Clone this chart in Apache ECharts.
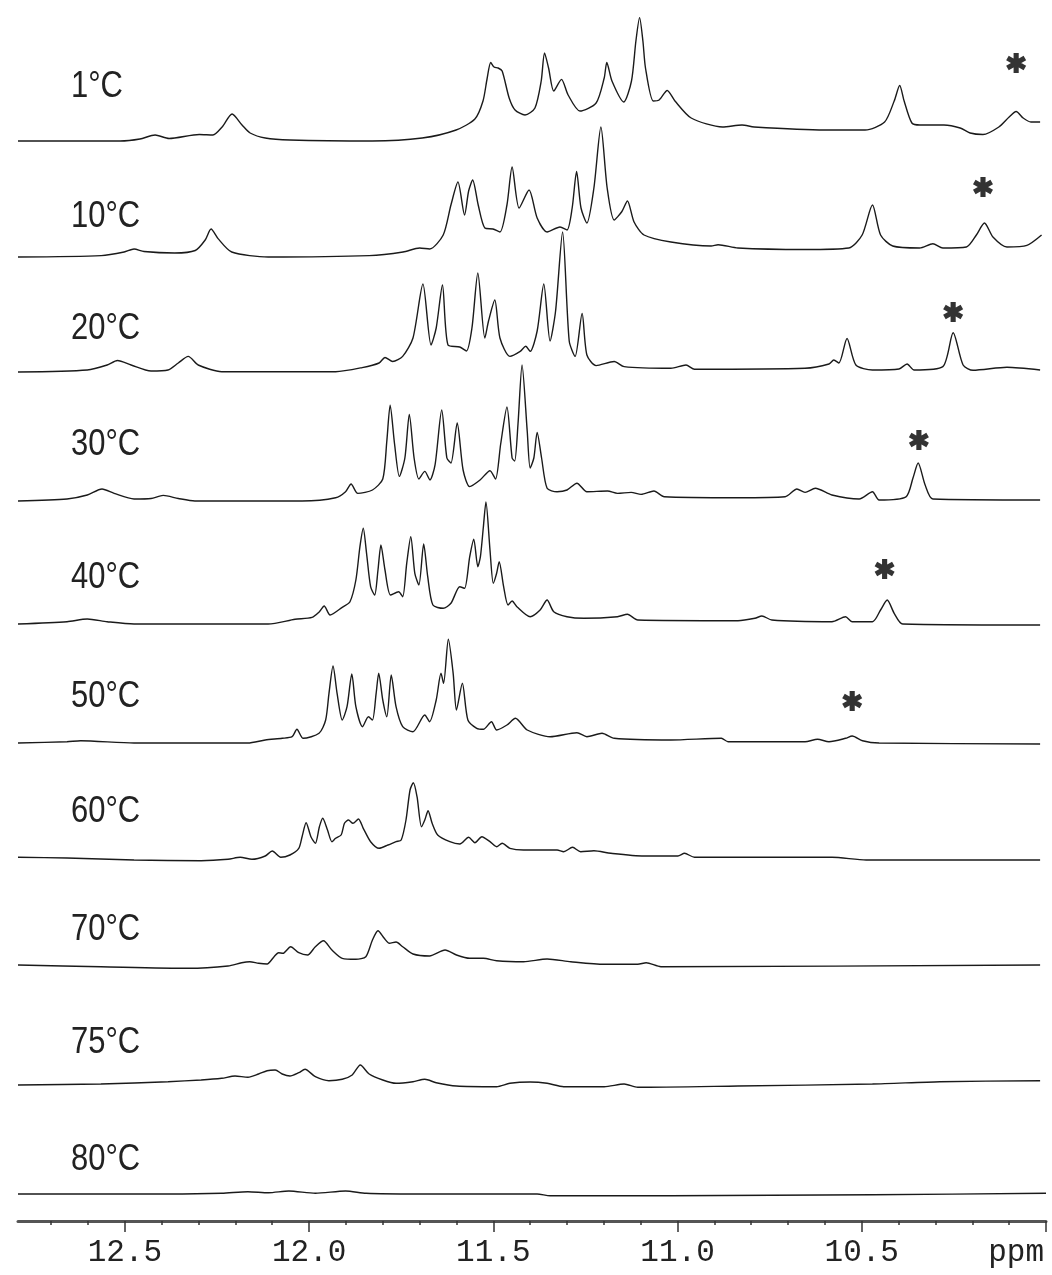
<!DOCTYPE html>
<html>
<head>
<meta charset="utf-8">
<script src="https://cdn.jsdelivr.net/npm/echarts@6/dist/echarts.min.js"></script>
<style>
html, body { margin: 0; background: #fff; }
#main { width: 1052px; height: 1275px; }
</style>
</head>
<body>
<div id="main"></div>
<script>
// temperatures, top to bottom
var temps = ['1°C', '10°C', '20°C', '30°C', '40°C', '50°C', '60°C', '70°C', '75°C', '80°C'];

// each spectrum: [ppm, intensity above its own baseline]
var spec1C = [[12.790,0],[12.513,0],[12.459,2],[12.418,6],[12.380,2.5],[12.298,6.5],[12.261,6],[12.236,14],[12.209,27],[12.182,16],[12.160,8],[12.119,3],[12.052,1],[11.829,0],[11.693,3],[11.601,11],[11.550,22],[11.528,40],[11.517,62],[11.507,78.5],[11.498,74],[11.487,73],[11.476,70],[11.457,43],[11.441,31],[11.414,26],[11.387,33],[11.370,60],[11.361,88],[11.350,73],[11.336,50],[11.315,61.6],[11.297,46],[11.265,30],[11.221,38],[11.199,63],[11.192,78.5],[11.178,60],[11.146,39],[11.125,60],[11.113,100],[11.103,123.4],[11.094,100],[11.087,73],[11.066,40],[11.050,41],[11.028,50.5],[11.007,40],[10.963,23],[10.878,14],[10.825,16],[10.792,14],[10.600,11],[10.491,11],[10.438,19],[10.412,40],[10.397,55.5],[10.385,40],[10.364,18],[10.342,16],[10.277,16],[10.233,13],[10.206,8],[10.171,6.5],[10.128,14],[10.100,24],[10.081,29.5],[10.062,23],[10.041,19],[10.016,19]];

var spec10C = [[12.790,0],[12.564,1.4],[12.502,5],[12.475,8],[12.448,5.5],[12.365,4],[12.309,6.5],[12.282,17],[12.266,28],[12.247,18.4],[12.210,5],[12.111,0],[11.837,1.4],[11.745,5],[11.700,9],[11.673,8],[11.636,22],[11.615,52],[11.596,75],[11.578,42],[11.567,66],[11.556,77],[11.541,52],[11.523,29],[11.501,28],[11.482,25],[11.463,52],[11.449,90],[11.430,49],[11.403,67],[11.381,39],[11.354,25],[11.319,30],[11.300,27],[11.286,49],[11.274,85.5],[11.262,49],[11.246,34],[11.227,69],[11.208,130],[11.191,69],[11.172,37],[11.151,45.5],[11.136,56],[11.118,35],[11.091,22],[11.018,15],[10.909,11],[10.890,12.3],[10.836,9],[10.654,7.5],[10.535,9],[10.499,22],[10.471,52],[10.449,22],[10.416,11],[10.343,9],[10.307,13.3],[10.280,9],[10.216,10],[10.189,22],[10.167,34],[10.144,20],[10.106,10],[10.052,11.6],[10.012,22]];

var spec20C = [[12.790,0],[12.602,2],[12.548,7],[12.520,11.5],[12.483,7],[12.429,1],[12.383,2],[12.355,9],[12.328,15.6],[12.301,7],[12.237,0.3],[11.928,0.3],[11.856,4.4],[11.810,9],[11.794,14.5],[11.773,10.5],[11.746,15.6],[11.718,34],[11.691,88],[11.669,27],[11.655,44],[11.638,87],[11.623,27],[11.591,25],[11.573,21],[11.558,44],[11.542,99],[11.523,34],[11.513,51],[11.496,72],[11.482,34],[11.455,15.6],[11.427,20.6],[11.412,25.7],[11.400,20.6],[11.381,41],[11.363,88],[11.346,31],[11.331,61],[11.312,140],[11.294,31],[11.278,15.6],[11.259,58.6],[11.246,17],[11.221,6.4],[11.172,10.5],[11.145,5.4],[11.018,3.7],[10.977,7],[10.954,2.7],[10.654,3.7],[10.589,8],[10.576,12],[10.562,9],[10.540,33.5],[10.516,7],[10.471,2],[10.399,3],[10.377,8],[10.358,2],[10.280,5.4],[10.252,39.3],[10.225,7],[10.198,1.7],[10.106,4.7],[10.016,2]];

var spec30C = [[12.790,-1],[12.657,1],[12.602,5],[12.562,11],[12.529,6.6],[12.475,1],[12.429,1.5],[12.396,4.6],[12.355,1.5],[12.310,-1],[12.019,-1],[11.928,2.2],[11.901,8.3],[11.886,16],[11.868,6.6],[11.828,10],[11.800,21],[11.789,59],[11.780,94.7],[11.768,56],[11.755,23.6],[11.740,42],[11.728,85.6],[11.715,42],[11.702,21],[11.686,28.6],[11.672,20],[11.658,35.4],[11.640,90],[11.626,42],[11.615,37],[11.598,77],[11.582,30],[11.564,13.4],[11.536,20],[11.509,29.3],[11.494,21],[11.480,56],[11.463,93],[11.449,42],[11.442,39],[11.433,76],[11.422,135],[11.408,69],[11.400,32],[11.390,42],[11.381,67.6],[11.369,42],[11.354,11.7],[11.327,8.3],[11.300,10],[11.273,16.8],[11.246,8.3],[11.190,9],[11.163,6.6],[11.126,7.6],[11.099,5.6],[11.064,9],[11.036,3.2],[10.836,2.2],[10.708,3.2],[10.676,11],[10.654,7.6],[10.626,11.7],[10.581,5],[10.507,1],[10.471,8.3],[10.453,0],[10.380,3.2],[10.361,22],[10.347,37],[10.328,15],[10.307,1],[10.016,0]];

var spec40C = [[12.790,0],[12.657,2.3],[12.602,5],[12.548,2.3],[12.475,0],[12.111,0],[12.038,4.7],[11.992,6.7],[11.972,12.3],[11.959,18],[11.943,9],[11.910,16.7],[11.889,22.3],[11.873,44],[11.862,77.3],[11.853,95.7],[11.844,70.7],[11.833,37.3],[11.822,29],[11.813,54],[11.805,79],[11.794,54],[11.779,29],[11.757,32.3],[11.746,27.3],[11.735,60.7],[11.724,87.3],[11.713,50.7],[11.702,39],[11.689,80],[11.678,47.3],[11.664,19],[11.636,15.7],[11.615,20.7],[11.591,37.3],[11.578,35.7],[11.564,67.3],[11.553,84.7],[11.542,57.3],[11.535,67.3],[11.527,97],[11.520,122],[11.509,74],[11.500,40.7],[11.491,50.7],[11.484,62.3],[11.472,37.3],[11.460,19],[11.449,23],[11.436,17.3],[11.400,7.3],[11.373,14],[11.354,24],[11.336,12.3],[11.300,7.3],[11.254,5.7],[11.163,7.3],[11.136,9.7],[11.108,4],[10.836,3.3],[10.790,5.7],[10.771,8],[10.744,4],[10.581,2.3],[10.544,7.3],[10.526,2.3],[10.471,2.3],[10.449,14],[10.431,24],[10.412,10.7],[10.389,0],[10.016,-1]];

var spec50C = [[12.790,0],[12.657,1.3],[12.620,2.3],[12.475,0],[12.166,0],[12.119,3],[12.073,4.7],[12.046,6.3],[12.033,13.7],[12.016,4.7],[11.973,9.7],[11.955,23],[11.946,49.7],[11.935,77],[11.924,49.7],[11.910,23],[11.897,36.3],[11.884,69],[11.873,36.3],[11.855,16.3],[11.839,26.3],[11.828,23],[11.818,49.7],[11.811,69.7],[11.800,43],[11.789,26.3],[11.777,68],[11.764,36.3],[11.746,16.3],[11.718,11.3],[11.686,28],[11.673,21.3],[11.655,43],[11.642,69.7],[11.635,59.7],[11.622,103.7],[11.609,69.7],[11.600,33],[11.584,59.7],[11.569,23],[11.545,14.7],[11.527,13.7],[11.505,21.3],[11.491,13],[11.463,18],[11.440,24.7],[11.408,13],[11.346,6.3],[11.273,10.3],[11.246,6.3],[11.205,9.7],[11.172,4.7],[11.018,3],[10.881,4.7],[10.863,1.3],[10.654,1.3],[10.620,3.7],[10.589,1.3],[10.544,4.7],[10.526,7],[10.498,2.3],[10.453,0],[10.016,-1]];

var spec60C = [[12.790,0.7],[12.657,0],[12.475,-2],[12.293,-2.7],[12.220,-1.3],[12.187,0.7],[12.155,-1.3],[12.119,2],[12.100,7],[12.077,0.7],[12.052,3],[12.028,9.7],[12.019,21.3],[12.008,35.3],[11.995,21.3],[11.983,14.7],[11.972,31.3],[11.963,39.7],[11.950,28],[11.938,16.3],[11.928,19.7],[11.913,23],[11.904,34.7],[11.893,38],[11.881,34.7],[11.866,39],[11.853,29.7],[11.833,16.3],[11.810,9.7],[11.786,13],[11.764,16.3],[11.750,18],[11.737,38],[11.726,68],[11.717,75.3],[11.707,61.3],[11.695,31.3],[11.686,38],[11.677,47.3],[11.666,34.7],[11.651,23],[11.618,16.3],[11.591,14],[11.567,20.7],[11.550,15.3],[11.531,21.3],[11.509,16.3],[11.491,11.3],[11.476,14.7],[11.455,9.7],[11.418,8],[11.327,8],[11.309,6.3],[11.285,10.7],[11.263,6.3],[11.227,7.3],[11.181,4.7],[11.091,2],[10.999,2],[10.981,4.7],[10.954,0.7],[10.744,0.7],[10.581,0.7],[10.488,-2],[10.016,-2]];

var spec70C = [[12.790,1],[12.565,-0.7],[12.328,-2.3],[12.220,0],[12.183,3.3],[12.161,4.3],[12.137,2.7],[12.114,2],[12.095,9.3],[12.083,13.3],[12.071,12.7],[12.050,19.3],[12.028,13.3],[12.004,11],[11.983,19.3],[11.961,25.3],[11.938,16],[11.910,7.7],[11.873,6.7],[11.846,9.3],[11.828,26],[11.813,35.3],[11.796,27.7],[11.782,22.7],[11.764,24],[11.746,19.3],[11.718,12],[11.673,10],[11.631,16],[11.600,11],[11.564,7.7],[11.527,7.7],[11.491,5.3],[11.418,4.3],[11.354,7],[11.290,4.3],[11.199,1.7],[11.108,1.7],[11.085,3.3],[11.045,-0.7],[10.016,1]];

var spec75C = [[12.790,0],[12.565,1],[12.383,3.3],[12.293,5],[12.237,6.7],[12.201,9],[12.166,7.7],[12.137,11],[12.114,14.3],[12.092,15],[12.073,11],[12.052,9],[12.028,12.3],[12.011,15.7],[11.983,8.3],[11.946,4.3],[11.910,5.7],[11.883,10],[11.861,20],[11.837,11],[11.800,5],[11.764,1.7],[11.718,3.3],[11.686,5.7],[11.655,2.3],[11.600,-1],[11.491,-1.7],[11.455,1.7],[11.400,3],[11.354,1.7],[11.309,-1.7],[11.199,-1.7],[11.145,1],[11.108,-2.3],[10.836,-1],[10.471,1],[10.288,3.3],[10.016,4.3]];

var spec80C = [[12.790,0],[12.383,0],[12.237,0.7],[12.166,2.3],[12.110,1.3],[12.055,3],[11.983,0.7],[11.901,3],[11.845,0.7],[11.710,0],[11.381,0],[11.346,-1.7],[11.018,-1.7],[10.471,-0.7],[10.000,0.7]];

var spectra = [spec1C, spec10C, spec20C, spec30C, spec40C, spec50C, spec60C, spec70C, spec75C, spec80C];

// asterisk marks over the solvent-like peak (first six spectra)
var starPpm = [10.081, 10.171, 10.252, 10.345, 10.438, 10.526];
var starHeight = [78, 70, 60, 60, 55, 42];

// axis ticks (ppm)
var majorTicks = [10, 10.5, 11, 11.5, 12, 12.5];
var labelTicks = [10.5, 11, 11.5, 12, 12.5];
var minorTicks = [10.1, 10.2, 10.3, 10.4, 10.6, 10.7, 10.8, 10.9, 11.1, 11.2, 11.3, 11.4,
                  11.6, 11.7, 11.8, 11.9, 12.1, 12.2, 12.3, 12.4, 12.6, 12.7];

// layout: pixel baseline of each trace and label centre
var baselines = [141, 257, 372, 500, 624, 743, 858, 966, 1085, 1194];
var labelY = [87, 217, 329, 445, 578, 697, 812, 930, 1043, 1160];

var starPath = 'path://M-2.3,-9L2.3,-9L2.3,9L-2.3,9Z M6.644,6.492L-8.944,-2.508L-6.644,-6.492L8.944,2.508Z M8.944,-2.508L-6.644,6.492L-8.944,2.508L6.644,-6.492Z';

var grids = [], xAxes = [], yAxes = [], series = [];

spectra.forEach(function (data, i) {
    var base = baselines[i];
    grids.push({ left: 18, right: 6, top: base - 140, height: 155, outerBoundsMode: 'none' });
    xAxes.push({ gridIndex: i, type: 'value', min: 10, max: 12.79, inverse: true, show: false });
    yAxes.push({ gridIndex: i, type: 'value', min: -15, max: 140, show: false });
    series.push({
        name: temps[i],
        type: 'line',
        xAxisIndex: i,
        yAxisIndex: i,
        data: data,
        symbol: 'none',
        smooth: 0.25,
        clip: false,
        silent: true,
        lineStyle: { color: '#1a1a1a', width: 1.4 }
    });
    if (i < starPpm.length) {
        series.push({
            type: 'scatter',
            xAxisIndex: i,
            yAxisIndex: i,
            data: [[starPpm[i], starHeight[i]]],
            symbol: starPath,
            symbolSize: [20, 20],
            clip: false,
            silent: true,
            itemStyle: { color: '#000' }
        });
    }
});

var last = spectra.length - 1;
// ppm axis under the last trace
xAxes.push({
    gridIndex: last, type: 'value', min: 10, max: 12.79, inverse: true,
    position: 'bottom', offset: 12,
    axisLine: { onZero: false, lineStyle: { color: '#555', width: 3 } },
    axisTick: { customValues: majorTicks, length: 11, lineStyle: { color: '#333', width: 1.5 } },
    axisLabel: {
        customValues: labelTicks,
        formatter: function (v) { return v.toFixed(1); },
        fontFamily: 'Liberation Mono', fontSize: 31, color: '#222', margin: 16
    },
    splitLine: { show: false }
});
xAxes.push({
    gridIndex: last, type: 'value', min: 10, max: 12.79, inverse: true,
    position: 'bottom', offset: 12,
    axisLine: { show: false, onZero: false },
    axisTick: { customValues: minorTicks, length: 4, lineStyle: { color: '#333', width: 1.5 } },
    axisLabel: { show: false },
    splitLine: { show: false }
});

// temperature labels, narrowed to match the condensed face of the original
var graphics = temps.map(function (t, i) {
    return {
        type: 'text', x: 71, y: labelY[i], scaleX: 0.86,
        style: {
            text: t, fill: '#222',
            font: '36px "Liberation Sans", Arial, sans-serif',
            verticalAlign: 'middle', textVerticalAlign: 'middle'
        }
    };
});
graphics.push({
    type: 'text', x: 1044, y: 1253,
    style: {
        text: 'ppm', fill: '#222', font: '31px "Liberation Mono", monospace',
        align: 'right', textAlign: 'right', verticalAlign: 'middle', textVerticalAlign: 'middle'
    }
});

var myChart = echarts.init(document.getElementById('main'));
myChart.setOption({
    animation: false,
    backgroundColor: '#fff',
    grid: grids,
    xAxis: xAxes,
    yAxis: yAxes,
    series: series,
    graphic: graphics
});
</script>
</body>
</html>
